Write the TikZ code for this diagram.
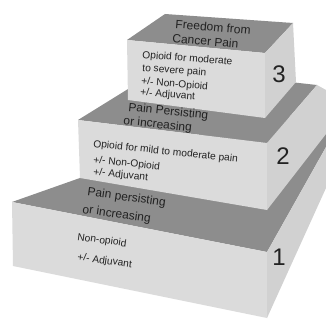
\documentclass[tikz,border=0pt]{standalone}
\usepackage{fontspec}
\setmainfont{Liberation Sans}
\definecolor{topc}{HTML}{8D8D8D}
\definecolor{frontc}{HTML}{DBDBDB}
\definecolor{rightc}{HTML}{D1D1D1}
\definecolor{txtc}{HTML}{222222}
\tikzset{
  topface/.style={fill=topc},
  frontface/.style={fill=frontc},
  rightface/.style={fill=rightc},
  ftxt/.style={anchor=base west,inner sep=0pt,text=txtc,font=\fontsize{10.2}{12}\selectfont},
  ttxt/.style={anchor=base west,inner sep=0pt,text=txtc,font=\fontsize{12}{14}\selectfont},
  numtxt/.style={inner sep=0pt,text=txtc,font=\fontsize{24}{28}\selectfont}
}
\begin{document}
\begin{tikzpicture}[x=1pt,y=-1pt]
\useasboundingbox (0,0) rectangle (326,320);
\clip (0,0) rectangle (326,320);
\fill[white] (0,0) rectangle (326,320);
% ---- box 1 ----
\fill[topface] (12,202) -- (267,252) -- (344,115) -- (240,121.5) -- cycle;
\fill[frontface] (12,202) -- (267,252) -- (267,318) -- (13,266) -- cycle;
\fill[rightface] (267,252) -- (326,147) -- (326,188) -- (267,318) -- cycle;
% ---- box 2 ----
\fill[topface] (78,120) -- (267,143) -- (317,85) -- (162,68) -- cycle;
\fill[frontface] (78,120) -- (267,143) -- (267,210) -- (80,178) -- cycle;
\fill[rightface] (267,143) -- (317,85) -- (326,90) -- (326,134) -- (267,210) -- cycle;
% ---- box 3 ----
\fill[topface] (127,40) -- (265,53) -- (293,23) -- (165,14) -- cycle;
\fill[frontface] (127,40) -- (265,53) -- (265,118) -- (128,100) -- cycle;
\fill[rightface] (265,53) -- (293,23) -- (296,82) -- (265,118) -- cycle;
% ---- texts box 3 ----
\node[ttxt,rotate=-5] (t3a) at (175,28) {Freedom from};
\node[ttxt,rotate=-5] (t3b) at (172,42.5) {Cancer Pain};
\node[ftxt,rotate=-4.5] (f3a) at (142,58) {Opioid for moderate};
\node[ftxt,rotate=-4.5] (f3b) at (142,71) {to severe pain};
\node[ftxt,rotate=-4.5] (f3c) at (141,84.5) {+/- Non-Opioid};
\node[ftxt,rotate=-4.5] (f3d) at (140,95.5) {+/- Adjuvant};
\node[numtxt] (n3) at (279,74) {3};
% ---- texts box 2 ----
\node[ttxt,rotate=-6] (t2a) at (128,111) {Pain Persisting};
\node[ttxt,rotate=-6] (t2b) at (123,124.5) {or increasing};
\node[ftxt,rotate=-6] (f2a) at (93,147) {Opioid for mild to moderate pain};
\node[ftxt,rotate=-6] (f2b) at (93,163) {+/- Non-Opioid};
\node[ftxt,rotate=-6] (f2c) at (93,175) {+/- Adjuvant};
\node[numtxt] (n2) at (283,156) {2};
% ---- texts box 1 ----
\node[ttxt,rotate=-8] (t1a) at (87,195.5) {Pain persisting};
\node[ttxt,rotate=-8] (t1b) at (82,213) {or increasing};
\node[ftxt,rotate=-8] (f1a) at (77,240) {Non-opioid};
\node[ftxt,rotate=-8] (f1b) at (77,260) {+/- Adjuvant};
\node[numtxt] (n1) at (279,257) {1};
\end{tikzpicture}
\end{document}
